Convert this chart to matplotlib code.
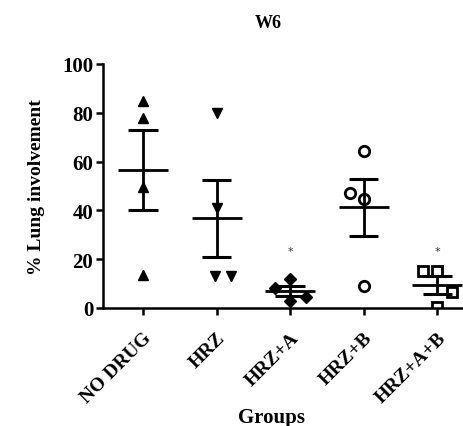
import matplotlib.pyplot as plt
import numpy as np

plt.rcParams['font.family'] = ['Liberation Serif', 'DejaVu Serif']
plt.rcParams['font.weight'] = 'bold'

groups = ['NO DRUG', 'HRZ', 'HRZ+A', 'HRZ+B', 'HRZ+A+B']
values = [
    [85, 78, 49.5, 13.5],
    [80, 41, 13, 13],
    [12, 8.3, 4.4, 3],
    [64.5, 47, 44.5, 9],
    [15.3, 15.3, 6.5, 0.5],
]
# small horizontal spread of points, as in the original scatter
spread = [
    [0, 0, 0, 0],
    [0, 0, -0.02, 0.2],
    [0, -0.21, 0.21, 0],
    [0, -0.19, 0, 0],
    [-0.2, 0, 0.2, 0],
]
markers = ['^', 'v', 'D', 'o', 's']
filled = [True, True, True, False, False]
marker_sizes = [7, 7, 6.5, 7.5, 7]
significant = [False, False, True, False, True]

fig = plt.figure(figsize=(4.64, 4.27), dpi=100)
ax = fig.add_axes([103 / 464, 1 - 309 / 427, 360 / 464, 244 / 427])

for i, vals in enumerate(values):
    vals = np.array(vals)
    mean = vals.mean()
    sem = vals.std(ddof=1) / np.sqrt(len(vals))
    ax.hlines(mean, i - 0.34, i + 0.34, color='black', lw=2, zorder=3)
    ax.vlines(i, mean - sem, mean + sem, color='black', lw=2, zorder=3)
    ax.hlines([mean - sem, mean + sem], i - 0.2, i + 0.2, color='black', lw=2.2, zorder=3)
    xs = i + np.array(spread[i])
    if filled[i]:
        ax.plot(xs, vals, ls='none', marker=markers[i], ms=marker_sizes[i],
                color='black', zorder=4)
    else:
        ax.plot(xs, vals, ls='none', marker=markers[i], ms=marker_sizes[i],
                mfc='none', mec='black', mew=2, zorder=4)
    if significant[i]:
        ax.text(i, 23.5, '*', ha='center', va='center', fontsize=8,
                fontweight='normal', family='DejaVu Sans', color='#333333')

ax.set_xlim(-0.544, 4.35)
ax.set_ylim(0, 100)
ax.set_yticks([0, 20, 40, 60, 80, 100])
ax.set_xticks(range(len(groups)))
ax.set_xticklabels(groups, rotation=45, ha='right', va='top', rotation_mode='anchor',
                   fontsize=14, fontweight='bold')
for lab in ax.get_yticklabels():
    lab.set_fontsize(15)
    lab.set_fontweight('bold')

for s in ['top', 'right']:
    ax.spines[s].set_visible(False)
for s in ['left', 'bottom']:
    ax.spines[s].set_linewidth(1.8)
ax.tick_params(axis='both', direction='out', length=5, width=1.8, pad=2, colors='black')
ax.tick_params(axis='x', pad=10)

ax.set_ylabel('% Lung involvement', fontsize=14, fontweight='bold', labelpad=12)
fig.text(272 / 464, 1 - 418 / 427, 'Groups', ha='center', va='center',
         fontsize=15, fontweight='bold')
fig.text(268 / 464, 1 - 24 / 427, 'W6', ha='center', va='center',
         fontsize=13, fontweight='bold')

fig.savefig('out.png', dpi=100)
